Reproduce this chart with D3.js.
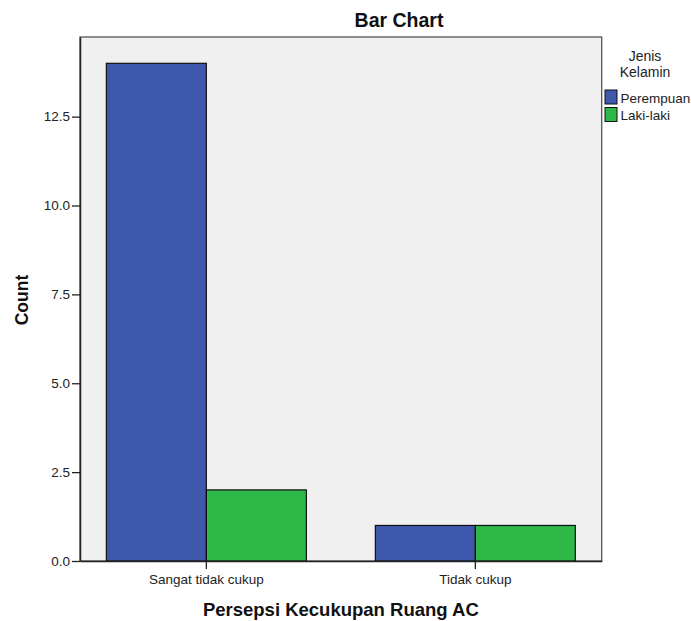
<!DOCTYPE html>
<html>
<head>
<meta charset="utf-8">
<script src="https://cdn.jsdelivr.net/npm/d3@7"></script>
<style>
  body { margin: 0; background: #fff; }
  svg { display: block; font-family: "Liberation Sans", Arial, sans-serif; }
</style>
</head>
<body>
<div id="chart"></div>
<script>
const categories = ["Sangat tidak cukup", "Tidak cukup"];
const seriesNames = ["Perempuan", "Laki-laki"];
const perempuan = [14, 1];
const lakiLaki = [2, 1];
const yTicks = [0, 2.5, 5, 7.5, 10, 12.5];
const colors = ["#3e58ac", "#2eb848"];

const W = 691, H = 621;
const m = { left: 80, top: 37, right: 601.7, bottom: 561 };

const svg = d3.select("#chart").append("svg").attr("width", W).attr("height", H);

const data = categories.map((c, i) => ({ cat: c, values: [perempuan[i], lakiLaki[i]] }));

const x0 = d3.scaleBand().domain(categories).range([m.left, m.right])
  .paddingInner(0.2565).paddingOuter(0.098);
const x1 = d3.scaleBand().domain(seriesNames).range([0, x0.bandwidth()]);
const y = d3.scaleLinear().domain([0, 14.74]).range([m.bottom, m.top]);

// plot background
svg.append("rect").attr("x", m.left).attr("y", m.top)
  .attr("width", m.right - m.left).attr("height", m.bottom - m.top)
  .attr("fill", "#f0f0f0").attr("stroke", "#555").attr("stroke-width", 1.3);

// bars
const g = svg.append("g");
data.forEach(d => {
  d.values.forEach((v, j) => {
    g.append("rect")
      .attr("x", x0(d.cat) + x1(seriesNames[j]))
      .attr("y", y(v))
      .attr("width", x1.bandwidth())
      .attr("height", y(0) - y(v))
      .attr("fill", colors[j])
      .attr("stroke", "#111").attr("stroke-width", 1.2);
  });
});

// y axis
const yAxis = svg.append("g").attr("transform", `translate(${m.left},0)`)
  .call(d3.axisLeft(y).tickValues(yTicks).tickFormat(d3.format(".1f"))
    .tickSize(8).tickSizeOuter(0).tickPadding(2));
yAxis.select(".domain").attr("stroke", "#222").attr("stroke-width", 1.5);
yAxis.selectAll(".tick line").attr("stroke", "#222").attr("stroke-width", 1.3);
yAxis.selectAll(".tick text").attr("font-size", "13.5px").attr("fill", "#222")
  .attr("font-family", "'Liberation Sans', Arial, sans-serif");

// x axis
const xAxis = svg.append("g").attr("transform", `translate(0,${m.bottom})`)
  .call(d3.axisBottom(x0).tickSize(8).tickPadding(5).tickSizeOuter(0));
xAxis.select(".domain").attr("stroke", "#222").attr("stroke-width", 1.5);
xAxis.selectAll(".tick line").attr("stroke", "#222").attr("stroke-width", 1.3);
xAxis.selectAll(".tick text").attr("font-size", "13.5px").attr("fill", "#222")
  .attr("font-family", "'Liberation Sans', Arial, sans-serif");

// title
svg.append("text").attr("x", 399).attr("y", 27).attr("text-anchor", "middle")
  .attr("font-size", "19.5px").attr("font-weight", "bold").attr("fill", "#111").text("Bar Chart");

// axis titles
svg.append("text").attr("x", (m.left + m.right) / 2).attr("y", 616).attr("text-anchor", "middle")
  .attr("font-size", "18.5px").attr("font-weight", "bold").attr("fill", "#111")
  .text("Persepsi Kecukupan Ruang AC");
svg.append("text").attr("transform", "translate(28,300) rotate(-90)").attr("text-anchor", "middle")
  .attr("font-size", "17.5px").attr("font-weight", "bold").attr("fill", "#111").text("Count");

// legend
const leg = svg.append("g");
leg.append("text").attr("x", 645).attr("y", 61).attr("text-anchor", "middle")
  .attr("font-size", "14px").attr("fill", "#222").text("Jenis");
leg.append("text").attr("x", 645).attr("y", 77).attr("text-anchor", "middle")
  .attr("font-size", "14px").attr("fill", "#222").text("Kelamin");
seriesNames.forEach((s, i) => {
  const yy = 90 + i * 17.5;
  leg.append("rect").attr("x", 605).attr("y", yy).attr("width", 12).attr("height", 14)
    .attr("fill", colors[i]).attr("stroke", "#111").attr("stroke-width", 1);
  leg.append("text").attr("x", 620.5).attr("y", yy + 12.5)
    .attr("font-size", "13.5px").attr("fill", "#222").text(s);
});
</script>
</body>
</html>
